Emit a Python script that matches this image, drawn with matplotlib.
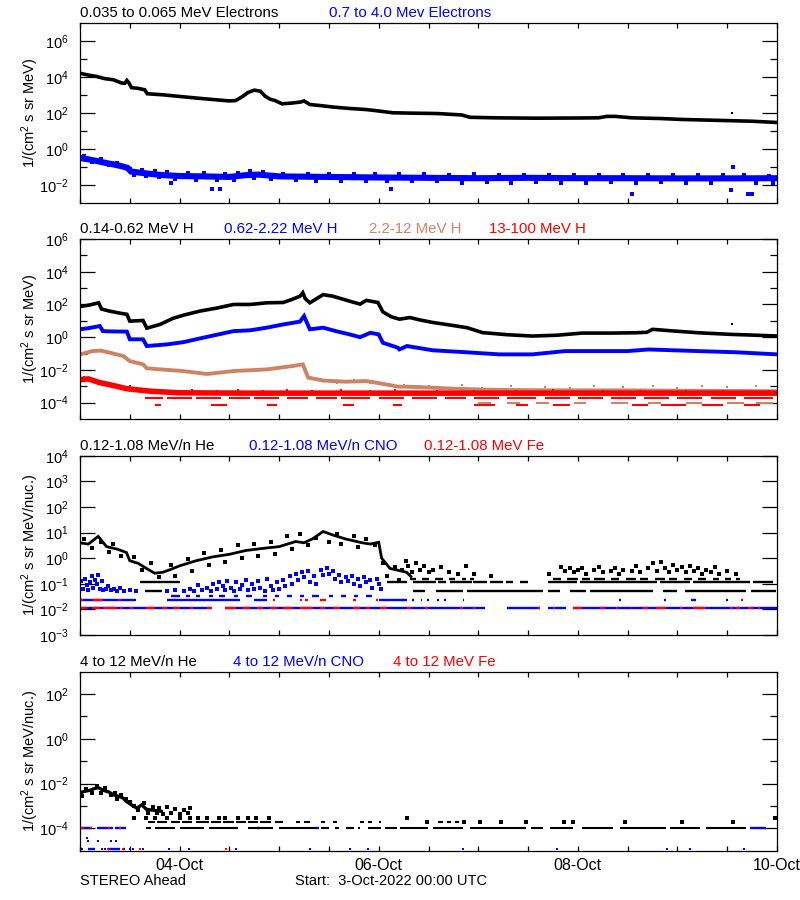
import numpy as np
import pandas as pd
import matplotlib
matplotlib.use("Agg")
import matplotlib.pyplot as plt
import matplotlib.dates as mdates
from matplotlib.ticker import FixedLocator, FuncFormatter, NullFormatter

plt.rcParams['font.family'] = ['Liberation Sans', 'DejaVu Sans']
plt.rcParams['mathtext.fontset'] = 'custom'
plt.rcParams['mathtext.rm'] = 'Liberation Sans'
plt.rcParams['mathtext.it'] = 'Liberation Sans:italic'
plt.rcParams['mathtext.bf'] = 'Liberation Sans:bold'

START = pd.Timestamp('2022-10-03 00:00')
END = pd.Timestamp('2022-10-10 00:00')

BLACK = '#000000'
BLUE = '#0000ff'
BROWN = '#cd8466'
RED = '#ff0000'

# ---------------- data (time in hours since start, values as log10 flux) -------------
# Panel 1: electrons
e_lo_t = [0, 2, 4, 6, 8, 10, 10.8, 11.3, 11.8, 12.4, 14, 15.6, 16.2, 20, 24, 29, 33, 36, 37.5, 39,
          40.5, 42, 43.5, 44.6, 45.8, 47, 48.7, 51, 53.2, 54, 55.4, 58, 61, 65, 69, 72, 75.4, 80, 86,
          92, 94, 100, 110, 120, 125, 127, 129, 133, 140, 145, 150, 157, 162, 168]
e_lo_v = [4.22, 4.12, 4.04, 3.92, 3.86, 3.68, 3.66, 3.82, 3.68, 3.42, 3.38, 3.3, 3.08, 3.02, 2.93,
          2.82, 2.74, 2.68, 2.7, 2.9, 3.15, 3.28, 3.22, 2.95, 2.78, 2.7, 2.52, 2.56, 2.62, 2.68, 2.48,
          2.42, 2.34, 2.26, 2.2, 2.12, 2.02, 2.0, 1.98, 1.9, 1.77, 1.74, 1.72, 1.73, 1.74, 1.82, 1.82,
          1.74, 1.7, 1.65, 1.62, 1.58, 1.55, 1.48]
e_lo_dots = [(157.2, 2.03)]

e_hi_t = [0, 2, 4, 6, 8, 10, 11.5, 12.3, 14, 17, 20, 24, 30, 36, 40, 43, 48, 60, 72, 84, 96, 108,
          120, 132, 144, 156, 168]
e_hi_v = [-0.5, -0.57, -0.66, -0.76, -0.85, -0.95, -1.05, -1.25, -1.3, -1.38, -1.45, -1.5, -1.52,
          -1.55, -1.45, -1.42, -1.52, -1.55, -1.58, -1.6, -1.62, -1.6, -1.62, -1.62, -1.63, -1.63, -1.62]
e_hi_dots = [(1, -0.38), (3, -0.72), (5, -0.56), (7, -0.9), (9, -0.76), (12, -1.1), (13, -1.42),
             (15, -1.16), (16, -1.5), (18, -1.22), (19, -1.56), (21, -1.3), (22, -1.9), (23, -1.64),
             (26, -1.34), (28, -1.72), (30, -1.34), (31.8, -2.2), (33, -1.74), (33.7, -2.2), (35, -1.36),
             (37, -1.74), (38, -1.34), (41, -1.24), (42, -1.6), (44, -1.26), (46, -1.64), (49, -1.36),
             (52, -1.74), (55, -1.36), (57, -1.8), (60, -1.38), (63, -1.76), (66, -1.38), (69, -1.8),
             (71, -1.4), (74, -1.8), (75, -2.2), (77, -1.4), (80, -1.8), (83, -1.4), (86, -1.8),
             (89, -1.42), (92, -1.86), (95, -1.4), (98, -1.82), (101, -1.44), (104, -1.86), (107, -1.42),
             (110, -1.84), (113, -1.44), (116, -1.88), (119, -1.44), (122, -1.86), (125, -1.44), (128, -1.82),
             (131, -1.42), (133, -2.5), (134, -1.88), (137, -1.44), (140, -1.84), (143, -1.42), (146, -1.88),
             (149, -1.44), (152, -1.86), (155, -1.44), (157, -2.27), (157.5, -1.0), (160, -1.46),
             (161, -2.5), (162, -2.5), (163, -1.86), (166, -1.48), (167, -1.9)]

# Panel 2: protons
p_lo_t = [0, 2, 4.5, 5.2, 7, 10, 11.3, 12, 15.2, 16.1, 19.3, 22.4, 25, 29, 33, 37, 41, 45, 49, 51,
          53, 53.7, 54.3, 55.4, 57, 58.6, 61, 65, 67.5, 69, 71.8, 73, 75, 77, 79.5, 82, 85, 89, 93.3,
          97, 103, 109, 115, 121, 128, 134, 136.6, 138, 143, 149, 157, 163, 168]
p_lo_v = [1.88, 1.95, 2.1, 1.72, 1.6, 1.45, 1.4, 0.98, 1.02, 0.55, 0.78, 1.15, 1.35, 1.6, 1.78, 2.0,
          2.0, 2.1, 2.12, 2.3, 2.5, 2.72, 2.35, 2.1, 2.35, 2.6, 2.5, 2.2, 2.02, 2.25, 2.12, 1.55, 1.25,
          1.1, 1.2, 1.05, 0.9, 0.75, 0.58, 0.28, 0.15, 0.07, 0.12, 0.25, 0.25, 0.27, 0.3, 0.48, 0.38,
          0.27, 0.17, 0.12, 0.07]
p_lo_dots = [(157.1, 0.82)]

p_mid_t = [0, 2, 4.8, 5.5, 8, 11.3, 12, 15.2, 16.1, 21, 25, 29, 33, 37, 41, 45, 49, 53, 54, 55.4,
           58.6, 62, 65, 67.5, 70, 72, 73, 76.6, 77, 78.8, 85, 93, 101, 109, 117, 125, 132, 137, 143,
           149, 158, 168]
p_mid_v = [0.48, 0.55, 0.68, 0.37, 0.35, 0.34, -0.13, -0.13, -0.54, -0.44, -0.3, -0.07, 0.15, 0.37,
           0.42, 0.58, 0.78, 0.95, 1.29, 0.48, 0.58, 0.35, 0.17, 0.0, 0.27, 0.17, -0.34, -0.64, -0.75,
           -0.54, -0.8, -0.92, -1.05, -1.05, -0.85, -0.85, -0.85, -0.75, -0.8, -0.85, -0.92, -1.05]

p_hi_t = [0, 3, 5, 7.2, 10.4, 12, 15.2, 16.1, 20, 24.8, 30.6, 37, 45, 51.3, 53.7, 55, 58.6, 64, 69,
          73, 76.6, 82, 90, 100, 115, 130, 150, 168]
p_hi_v = [-1.05, -0.85, -0.82, -0.95, -1.15, -1.46, -1.66, -1.9, -1.98, -2.07, -2.25, -2.07, -1.97,
          -1.76, -1.66, -2.47, -2.65, -2.72, -2.68, -2.85, -3.02, -3.05, -3.15, -3.22, -3.25, -3.25,
          -3.28, -3.3]
p_hi_dots = [(58, -2.55), (62, -2.8), (66, -2.6), (70, -2.82), (74, -2.9), (78, -2.95), (84, -3.0),
             (88, -3.1), (92, -2.95), (97, -3.1), (104, -3.0), (112, -3.05), (118, -3.1), (124, -2.98),
             (131, -3.05), (138, -3.0), (144, -3.08), (150, -2.98), (156, -3.05), (163, -3.0)]
p_hi_low_level = -4.0
p_hi_low_segs = [(96, 99), (103, 106), (110, 113), (119, 122), (128, 132), (137, 140), (146, 150),
                 (156, 160), (163, 167)]

p_vhi_t = [0, 2, 4.8, 8, 11.3, 16.9, 24, 40, 60, 80, 100, 120, 140, 168]
p_vhi_v = [-2.6, -2.55, -2.78, -2.95, -3.15, -3.3, -3.4, -3.42, -3.42, -3.42, -3.42, -3.42, -3.42, -3.42]
p_vhi_dots = [(1, -2.45), (3, -2.7), (6, -2.75), (9, -3.05), (12, -3.0), (14, -3.25), (18, -3.2),
              (22, -3.28), (27, -3.25), (33, -3.3), (38, -3.22), (44, -3.3), (50, -3.25), (56, -3.3),
              (63, -3.25), (70, -3.3), (76, -3.25), (86, -3.3), (95, -3.27), (105, -3.3), (114, -3.25),
              (126, -3.3), (135, -3.27), (146, -3.3), (155, -3.26), (166, -3.3)]
p_vhi_lvl1 = -3.69
p_vhi_lvl1_segs = [(15.6, 20), (21, 27), (28, 34), (36, 41), (42, 48), (50, 55), (57, 62), (63, 70),
                   (72, 78), (80, 86), (88, 93), (95, 101), (103, 110), (112, 118), (120, 126),
                   (128, 134), (136, 142), (144, 150), (152, 158), (160, 167)]
p_vhi_lvl2 = -4.15
p_vhi_lvl2_segs = [(18, 19.5), (31.5, 35.5), (45, 47.5), (63.5, 66), (75.5, 77.5), (95, 100),
                   (105, 108), (114, 118), (133, 137), (140, 146), (150, 155), (160, 164)]

# Panel 3: 0.12-1.08 MeV/n ions
he_lo_t = [0, 2, 4.4, 6.4, 9, 11.2, 12, 14, 16, 18, 20, 21.7, 24, 28, 32, 36, 40, 44, 48, 52, 54, 56,
           58.6, 61, 64, 68, 70, 72, 72.7, 74.7, 78.7, 80]
he_lo_v = [0.6, 0.55, 0.85, 0.45, 0.35, 0.22, -0.1, -0.2, -0.4, -0.59, -0.55, -0.45, -0.3, -0.1, 0.05,
           0.15, 0.3, 0.38, 0.45, 0.65, 0.6, 0.75, 1.04, 0.9, 0.75, 0.6, 0.55, 0.62, 0.0, -0.4, -0.55, -0.75]
he_lo_dots = [(1, 0.75), (3, 0.4), (5, 0.65), (7, 0.25), (8, 0.55), (10, 0.1), (13, 0.05), (15, -0.45),
              (17, -0.2), (19, -0.75), (22, -0.25), (23, -0.7), (26, -0.05), (27, -0.5), (30, 0.2),
              (31, -0.25), (34, 0.3), (35, -0.15), (38, 0.5), (39, 0.0), (42, 0.55), (43, 0.1), (46, 0.65),
              (47, 0.15), (50, 0.85), (51, 0.35), (53, 0.95), (55, 0.5), (57, 0.8), (60, 0.65), (62, 0.95),
              (63, 0.55), (66, 0.85), (67, 0.45), (69, 0.75), (71, 0.5), (73, -0.2), (74, -0.7),
              (76, -0.35), (77, -0.85),
              (77.5, -0.45), (78.5, -0.1), (79, -0.3), (80, -0.55), (81, -0.2), (82, -0.45), (83, -0.3),
              (84, -0.55), (85, -0.45), (87, -0.35), (89, -0.55), (91, -0.6), (93, -0.3), (95, -0.62),
              (99, -0.7), (113, -0.6), (116, -0.35), (117, -0.5), (118, -0.4), (119, -0.55), (120, -0.45),
              (121, -0.4), (122, -0.6), (124, -0.45), (125, -0.35), (126, -0.55), (128, -0.5), (129, -0.4),
              (130, -0.6), (131, -0.45), (133, -0.5), (134, -0.3), (135, -0.55), (137, -0.4), (138, -0.2),
              (139, -0.5), (140, -0.15), (141, -0.4), (142, -0.55), (143, -0.25), (144, -0.45),
              (145, -0.35), (146, -0.55), (147, -0.3), (148, -0.5), (149, -0.4), (150, -0.6), (151, -0.45),
              (152, -0.55), (153, -0.35), (154, -0.6), (156, -0.5), (158, -0.62)]
he_lo_lvl_a = -0.8
he_lo_lvl_a_segs = [(79.5, 81), (82.5, 84), (85.5, 87.5), (89, 90.5), (92, 93), (94, 95), (114, 116),
                    (117.5, 120), (121, 123), (124, 126.5), (128, 130), (131.5, 134), (135, 137),
                    (138.5, 141), (142, 144), (145.5, 147.5), (149, 151), (152.5, 154), (155.5, 157),
                    (158, 159)]
he_lo_lvl_b = -0.95
he_lo_lvl_b_segs = [(14.5, 24), (74, 78.7), (80.3, 85.9), (86.3, 88.3), (89.1, 94.4), (94.8, 98),
                    (98.8, 102), (102.8, 104.4), (106, 108), (112.8, 119.7), (120.5, 139), (139.7, 147),
                    (147.8, 161.4), (162.2, 167)]
he_lo_lvl_c = -1.27
he_lo_lvl_c_segs = [(15.7, 19.7), (80.3, 83.1), (85.9, 92.4), (93.2, 111.6), (112.8, 115.6), (118, 122),
                    (122.9, 138), (140.5, 143.8), (145.8, 160.6), (161.8, 167.8)]

cno_lo_dots = [(0.3, -0.9), (0.8, -1.2), (1.2, -0.8), (1.6, -1.05), (2.0, -1.25), (2.4, -0.95),
               (2.8, -0.7), (3.2, -1.15), (3.6, -0.85), (4.0, -1.0), (4.4, -0.65), (4.8, -1.2), (5.2, -0.9),
               (5.6, -1.25), (6.2, -1.2), (6.8, -1.1), (7.5, -1.25), (8.2, -1.2), (9.0, -1.3), (9.6, -1.15),
               (10.5, -1.3), (12.0, -1.25), (13.5, -1.3), (21, -1.3), (23, -1.25), (25, -1.28), (26.5, -1.2),
               (27.5, -1.3), (28.5, -1.05), (29.5, -1.25), (30.5, -1.15), (31.5, -1.3), (32, -1.0),
               (33, -1.2), (33.5, -0.95), (34.5, -1.1), (35, -1.25), (35.5, -0.9), (36.5, -1.15),
               (37, -1.3), (37.5, -0.95), (38.5, -1.2), (39, -1.05), (40, -0.85), (40.5, -1.25),
               (41.5, -1.0), (42, -1.2), (43, -0.9), (43.5, -1.15), (44.5, -1.3), (45, -0.8), (46, -1.1),
               (46.5, -1.25), (47.5, -0.95), (48, -1.2), (49, -0.85), (49.5, -1.1), (50.5, -0.7),
               (51, -1.0), (52, -0.6), (52.5, -0.85), (53.5, -0.55), (54, -0.75), (55, -0.5), (55.5, -0.95),
               (56.5, -0.7), (57, -1.0), (58, -0.45), (58.5, -0.65), (59.5, -0.4), (60, -0.6), (61, -0.5),
               (61.5, -0.8), (62.5, -0.65), (63, -0.95), (64, -0.75), (64.5, -0.9), (65.5, -0.7),
               (66, -1.0), (67, -0.8), (67.5, -1.1), (68.5, -0.75), (69, -0.95), (70, -0.85), (70.5, -1.15),
               (71.5, -0.8), (72, -1.0), (72.5, -1.2)]
cno_lo_lvl_a = -1.46
cno_lo_lvl_a_segs = [(22, 24), (25.5, 26.5), (28, 29), (31, 32), (33.5, 35), (37, 38), (40, 41.5),
                     (44, 45), (47, 48), (50, 51), (53, 54), (56, 57.5), (60, 61), (63, 64), (66, 67),
                     (69, 70.5)]
cno_lo_lvl_b = -1.63
cno_lo_lvl_b_segs = [(0, 13.6), (21, 38.5), (42, 45), (72, 78.7), (77.7, 78.1), (80, 80.4), (82.1, 82.5),
                     (83.7, 84.1), (86.1, 86.5), (87.7, 88.1), (92.2, 92.6), (129.9, 130.3), (140.8, 141.2),
                     (147.2, 148.4), (155.8, 156.2)]
cno_lo_lvl_c = -1.93
cno_lo_lvl_c_segs = [(0, 31.5), (35, 97.6), (103, 110.8), (112.8, 117.2), (119, 168)]

fe_lo_lvl_b = -1.63
fe_lo_lvl_b_segs = [(0, 0.8), (3.2, 5.6), (9.4, 9.8), (46.5, 47), (53, 53.4), (54.2, 55), (57.8, 59.4),
                    (65.8, 66.6), (71.4, 71.8), (159.4, 159.8)]
fe_lo_lvl_c = -1.93
fe_lo_lvl_c_segs = [(0, 1.6), (2.8, 4.8), (5.6, 8.8), (9.6, 10.4), (12, 12.8), (16, 18), (19.7, 20.9),
                    (22.5, 24), (26.5, 27.3), (30.5, 31.7), (35, 37.7), (39.3, 41), (42.6, 44.2),
                    (45.8, 47.4), (49, 51.4), (53, 56.2), (57.8, 59), (61, 62.6), (65.8, 67.5), (69, 69.9),
                    (72.3, 73.9), (78.7, 79.9), (83.1, 83.9), (91.5, 92.4), (94.8, 95.2), (110.4, 110.8),
                    (114, 114.4), (118.9, 120.9), (125.3, 126.5), (129.3, 129.7), (132.5, 132.9),
                    (135.7, 136.9), (138.9, 141.3), (144.5, 145.3), (147.8, 151), (156.6, 157.4),
                    (158.2, 159), (161, 162.2), (163.4, 163.8)]

# Panel 4: 4-12 MeV/n ions
he_hi_t = [0, 1, 2.4, 3.5, 4.4, 5.6, 7, 8, 9.5, 10.4, 11.2, 12.4, 13.7, 14.9, 16, 18, 20]
he_hi_v = [-2.42, -2.35, -2.3, -2.22, -2.18, -2.3, -2.38, -2.5, -2.58, -2.65, -2.8, -2.95, -3.1, -2.95,
           -3.15, -3.2, -3.25]
he_hi_dots = [(0.5, -2.55), (1.5, -2.25), (3, -2.4), (4, -2.12), (5, -2.4), (6, -2.22), (7.5, -2.5),
              (8.5, -2.4), (9, -2.7), (10, -2.5), (11, -2.7), (12, -2.82), (13, -3.0), (14, -3.2),
              (15.5, -2.88), (16.5, -3.3), (17.5, -3.05), (18.5, -3.3), (19, -3.1), (20, -3.35), (21, -3.05),
              (22, -3.3), (23, -3.15), (24, -3.35), (25, -3.2), (26, -3.3), (26.5, -3.1),
              (13, -3.53), (16, -3.53), (18, -3.53), (21, -3.53), (24, -3.53), (26.5, -3.53), (28.5, -3.53),
              (30.5, -3.53), (33.5, -3.53), (35, -3.53), (38, -3.53), (40.5, -3.53), (42.5, -3.53),
              (45.5, -3.53), (78.8, -3.56), (83.6, -3.7), (92.5, -3.7), (96.5, -3.7), (101.4, -3.7),
              (107.6, -3.7), (116.6, -3.7), (118.9, -3.7), (131.3, -3.7), (145.2, -3.7), (157.3, -3.7),
              (167.5, -3.56)]
he_hi_lvl_a = -3.7
he_hi_lvl_a_segs = [(16.5, 18), (18.5, 21), (22, 24), (24.5, 27), (28, 31), (31.5, 34), (34.5, 37),
                    (37.5, 40), (40.5, 43), (43.5, 46), (47, 49), (52, 53), (54, 55.5), (58, 59), (61, 62),
                    (67.5, 68.5), (69.5, 70.5), (72, 72.5), (86.3, 87.5), (88.5, 89.5), (90.5, 91.3)]
he_hi_lvl_b = -4.0
he_hi_lvl_b_segs = [(16, 17), (18, 23), (24, 30), (31, 38), (40.5, 46.5), (48, 57), (58, 60), (61.5, 62.5),
                    (64, 66), (67, 67.5), (69.5, 72.5), (73.5, 76.5), (77.1, 83.9), (85.1, 92.4), (94, 107.6),
                    (108.8, 111.6), (113.2, 118.9), (120.9, 128.5), (130.1, 141.3), (142.1, 149.4),
                    (151, 160.6)]
cno_hi_lvl_b = -4.0
cno_hi_lvl_b_segs = [(0, 3), (4, 8), (8.5, 11.2), (42.6, 43.2), (57, 57.6), (161.4, 165.4)]
cno_hi_dots = [(1.6, -4.42), (2.0, -4.55), (4.4, -4.55), (7.4, -4.55), (8.7, -4.55),
               (5.2, -4.92), (6.0, -4.92), (12, -4.92), (12.8, -4.92), (15.3, -4.92), (21.5, -4.92),
               (26.3, -4.92), (37.7, -4.92), (55.4, -4.92), (65, -4.92), (69.5, -4.92), (92.4, -4.92),
               (115, -4.92), (141.6, -4.92), (147, -4.92), (160, -4.92)]
cno_hi_lvl_c = -4.92
cno_hi_lvl_c_segs = [(0, 0.8), (2, 3.6), (6.8, 9.6), (10.4, 10.8)]
fe_hi_lvl_b_segs = [(0.3, 0.9), (2.5, 3.0), (6.8, 7.2), (9.5, 10.0)]
fe_hi_dots = [(6.8, -4.92), (10.4, -4.92), (14.5, -4.92), (35.3, -4.92)]

# titles
titles = [
    [("0.035 to 0.065 MeV Electrons", BLACK, 80), ("0.7 to 4.0 Mev Electrons", BLUE, 329)],
    [("0.14-0.62 MeV H", BLACK, 80), ("0.62-2.22 MeV H", BLUE, 224), ("2.2-12 MeV H", BROWN, 369),
     ("13-100 MeV H", RED, 489)],
    [("0.12-1.08 MeV/n He", BLACK, 80), ("0.12-1.08 MeV/n CNO", BLUE, 249), ("0.12-1.08 MeV Fe", RED, 424)],
    [("4 to 12 MeV/n He", BLACK, 80), ("4 to 12 MeV/n CNO", BLUE, 233), ("4 to 12 MeV Fe", RED, 393)],
]
title_y = [13, 229, 446, 662]
ylabels = ["1/(cm$^2$ s sr MeV)", "1/(cm$^2$ s sr MeV)",
           "1/(cm$^2$ s sr MeV/nuc.)", "1/(cm$^2$ s sr MeV/nuc.)"]
ylims = [(-3, 7), (-5, 6), (-3, 4), (-5, 3)]
ymajor = [[-2, 0, 2, 4, 6], [-4, -2, 0, 2, 4, 6], [-3, -2, -1, 0, 1, 2, 3, 4], [-4, -2, 0, 2]]
yminor = [[-1, 1, 3, 5], [-3, -1, 1, 3, 5], [], [-3, -1, 1]]

# ---------------- helpers ----------------
def T(h):
    return START + pd.to_timedelta(np.asarray(h, dtype=float), unit='h')


def V(lg):
    return 10.0 ** np.asarray(lg, dtype=float)


def line(ax, t, v, c, lw=2.2):
    ax.plot(T(t), V(v), color=c, lw=lw, solid_capstyle='butt', solid_joinstyle='miter')


def dots(ax, pairs, c, ms=2.1):
    t = [p[0] for p in pairs]
    v = [p[1] for p in pairs]
    ax.plot(T(t), V(v), ls='none', marker='s', ms=ms, mew=0, color=c)


def segs(ax, level, seglist, c, lw=1.7):
    s = [a for a, b in seglist]
    e = [b for a, b in seglist]
    ax.hlines(V([level] * len(s)), T(s), T(e), colors=c, lw=lw)


# ---------------- figure ----------------
fig = plt.figure(figsize=(8, 9), dpi=100)
W, H = 800.0, 900.0
boxes = [(23.3, 203.0), (239.0, 419.0), (455.7, 635.0), (671.7, 850.7)]
axes = []
for (top, bot) in boxes:
    ax = fig.add_axes([80 / W, 1 - bot / H, 697 / W, (bot - top) / H])
    axes.append(ax)

ax1, ax2, ax3, ax4 = axes

# panel 1
line(ax1, e_hi_t, e_hi_v, BLUE, lw=4.4)
dots(ax1, e_hi_dots, BLUE, ms=2.4)
line(ax1, e_lo_t, e_lo_v, BLACK, lw=2.6)
dots(ax1, e_lo_dots, BLACK)

# panel 2
line(ax2, p_hi_t, p_hi_v, BROWN, lw=2.8)
dots(ax2, p_hi_dots, BROWN)
segs(ax2, p_hi_low_level, p_hi_low_segs, BROWN, lw=1.5)
segs(ax2, p_vhi_lvl1, p_vhi_lvl1_segs, RED, lw=1.5)
segs(ax2, p_vhi_lvl2, p_vhi_lvl2_segs, RED, lw=1.5)
line(ax2, p_vhi_t, p_vhi_v, RED, lw=4.0)
dots(ax2, p_vhi_dots, RED)
line(ax2, p_mid_t, p_mid_v, BLUE, lw=2.8)
line(ax2, p_lo_t, p_lo_v, BLACK, lw=2.6)
dots(ax2, p_lo_dots, BLACK)

# panel 3
segs(ax3, cno_lo_lvl_c, cno_lo_lvl_c_segs, BLUE)
segs(ax3, fe_lo_lvl_c, fe_lo_lvl_c_segs, RED)
segs(ax3, cno_lo_lvl_b, cno_lo_lvl_b_segs, BLUE)
segs(ax3, fe_lo_lvl_b, fe_lo_lvl_b_segs, RED)
segs(ax3, cno_lo_lvl_a, cno_lo_lvl_a_segs, BLUE)
dots(ax3, cno_lo_dots, BLUE, ms=2.3)
segs(ax3, he_lo_lvl_c, he_lo_lvl_c_segs, BLACK)
segs(ax3, he_lo_lvl_b, he_lo_lvl_b_segs, BLACK)
segs(ax3, he_lo_lvl_a, he_lo_lvl_a_segs, BLACK)
line(ax3, he_lo_t, he_lo_v, BLACK, lw=2.0)
dots(ax3, he_lo_dots, BLACK, ms=2.3)

# panel 4
segs(ax4, cno_hi_lvl_b, cno_hi_lvl_b_segs, BLUE)
segs(ax4, cno_hi_lvl_b, fe_hi_lvl_b_segs, RED)
segs(ax4, cno_hi_lvl_c, cno_hi_lvl_c_segs, BLUE)
dots(ax4, cno_hi_dots, BLUE)
dots(ax4, fe_hi_dots, RED)
segs(ax4, he_hi_lvl_b, he_hi_lvl_b_segs, BLACK, lw=1.5)
segs(ax4, he_hi_lvl_a, he_hi_lvl_a_segs, BLACK, lw=1.5)
line(ax4, he_hi_t, he_hi_v, BLACK, lw=2.4)
dots(ax4, he_hi_dots, BLACK, ms=2.3)

# axes styling
fmt = FuncFormatter(lambda v, p: r'$10^{%d}$' % int(round(np.log10(v))))
for i, ax in enumerate(axes):
    ax.set_yscale('log')
    lo, hi = ylims[i]
    ax.set_ylim(10.0 ** lo, 10.0 ** hi)
    ax.yaxis.set_major_locator(FixedLocator([10.0 ** k for k in ymajor[i]]))
    ax.yaxis.set_minor_locator(FixedLocator([10.0 ** k for k in yminor[i]]))
    ax.yaxis.set_major_formatter(fmt)
    ax.yaxis.set_minor_formatter(NullFormatter())
    ax.tick_params(axis='y', which='major', direction='in', length=10.5, width=0.9,
                   left=True, right=True, labelsize=10.5, pad=8)
    ax.tick_params(axis='y', which='minor', direction='in', length=5, width=0.9, left=True, right=True)
    ax.set_xlim(START, END)
    ax.xaxis.set_major_locator(mdates.DayLocator(bymonthday=[4, 6, 8, 10]))
    ax.xaxis.set_minor_locator(mdates.HourLocator(byhour=[0, 12]))
    ax.xaxis.set_major_formatter(mdates.DateFormatter('%d-%b'))
    ax.tick_params(axis='x', which='both', direction='in', length=3.6, width=0.9,
                   top=True, bottom=True, labelsize=11.5, pad=5)
    if i < 3:
        ax.tick_params(axis='x', which='both', labelbottom=False)
    for sp in ax.spines.values():
        sp.set_linewidth(0.9)
    ax.set_ylabel(ylabels[i], fontsize=10.5)
    ax.yaxis.set_label_coords(-(80 - 41) / 697.0, 0.5)
    for text, col, xpx in titles[i]:
        fig.text(xpx / W, 1 - title_y[i] / H, text, color=col, fontsize=10.8, ha='left', va='center')

fig.text(80 / W, 1 - 881 / H, "STEREO Ahead", fontsize=10.5, ha='left', va='center')
fig.text(295 / W, 1 - 881 / H, "Start:  3-Oct-2022 00:00 UTC", fontsize=10.5, ha='left', va='center')

fig.savefig('out.png', dpi=100)
